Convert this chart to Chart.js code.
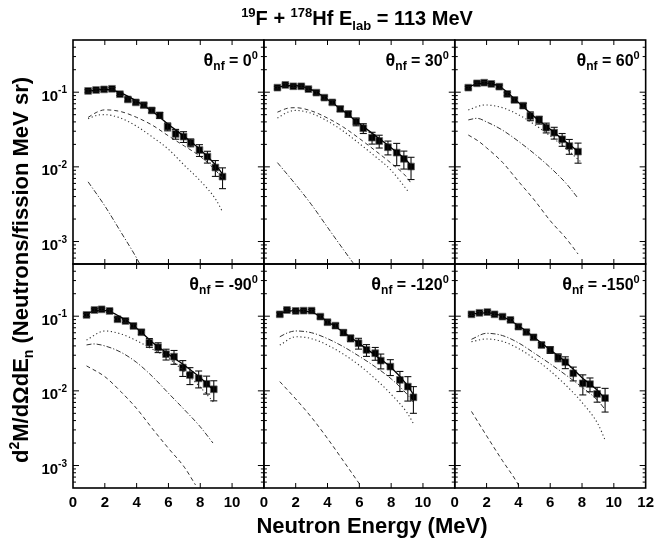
<!DOCTYPE html>
<html>
<head>
<meta charset="utf-8">
<script src="https://cdn.jsdelivr.net/npm/chart.js@4"></script>
<style>
  html, body { margin: 0; padding: 0; background: #fff; }
  #wrap { position: relative; width: 660px; height: 547px; overflow: hidden;
          font-family: "Liberation Sans", Arial, sans-serif; font-weight: bold; color: #000; }
  #chart { position: absolute; left: 0; top: 0; }
  .lbl { position: absolute; white-space: nowrap; }
  .lbl sup, .lbl sub { position: relative; vertical-align: baseline; }
  #title { left: 357px; top: 6px; font-size: 20px; line-height: 24px; transform: translateX(-50%); }
  #title sup { font-size: 13px; top: -8px; }
  #title sub { font-size: 13px; top: 5px; }
  #xtitle { left: 372px; top: 513px; font-size: 22px; line-height: 26px; transform: translateX(-50%); }
  #ytitle { left: -203px; top: 256px; width: 450px; text-align: center; font-size: 22px; line-height: 26px;
            transform: rotate(-90deg); }
  #ytitle sup { font-size: 14px; top: -9px; }
  #ytitle sub { font-size: 14px; top: 5px; }
</style>
</head>
<body>
<div id="wrap">
  <canvas id="chart" width="660" height="547"></canvas>
  <div class="lbl" id="title"><sup>19</sup>F + <sup>178</sup>Hf E<sub>lab</sub> = 113 MeV</div>
  <div class="lbl" id="ytitle">d<sup>2</sup>M/dΩdE<sub>n</sub> (Neutrons/fission MeV sr)</div>
  <div class="lbl" id="xtitle">Neutron Energy (MeV)</div>
</div>
<script>
// ---- axes
const X_MIN = 0, X_MAX = 12;
const Y_MIN = 5e-4, Y_MAX = 0.5;
const xTicks = [0, 2, 4, 6, 8, 10, 12];
const yDecades = [1e-3, 1e-2, 1e-1];
const yExponents = ['-3', '-2', '-1'];
const yMinorBase = [1e-4, 1e-3, 1e-2, 1e-1];
const yMinorMult = [2, 3, 4, 5, 6, 7, 8, 9];

const angles = ['0', '30', '60', '-90', '-120', '-150'];

// ---- theta = 0
const e0 = [0.95, 1.45, 1.95, 2.45, 2.95, 3.45, 3.95, 4.45, 4.95, 5.45, 5.95, 6.45, 6.95, 7.4, 7.95, 8.45, 8.95, 9.4];
const y0 = [0.104, 0.107, 0.109, 0.111, 0.094, 0.080, 0.073, 0.067, 0.057, 0.049, 0.0345, 0.0276, 0.0254, 0.0211, 0.0168, 0.0137, 0.0098, 0.0074];
const err0 = [0.04, 0.04, 0.04, 0.04, 0.04, 0.05, 0.05, 0.06, 0.07, 0.09, 0.12, 0.15, 0.165, 0.12, 0.18, 0.18, 0.24, 0.31];
const tot0 = [[0.95, 0.103], [1.5, 0.107], [2, 0.109], [2.5, 0.106], [3, 0.098], [4, 0.076], [5, 0.055], [6, 0.037], [7, 0.0255], [8, 0.017], [9, 0.0104], [9.4, 0.0080]];
const dsh0 = [[0.95, 0.046], [1.5, 0.054], [2, 0.058], [3, 0.055], [4, 0.046], [5, 0.036], [6, 0.026], [7, 0.019], [8, 0.0138], [9, 0.0088], [9.4, 0.0070]];
const dot0 = [[0.95, 0.044], [1.5, 0.049], [2, 0.050], [3, 0.045], [4, 0.035], [5, 0.025], [6, 0.0172], [7, 0.0105], [8, 0.0065], [9, 0.0036], [9.4, 0.0025]];
const dd0 = [[0.95, 0.0063], [2, 0.0030], [3, 0.00135], [4, 0.00060], [4.2, 0.0005]];

// ---- theta = 30
const e1 = [0.85, 1.35, 1.85, 2.35, 2.8, 3.3, 3.8, 4.3, 4.8, 5.3, 5.8, 6.25, 6.8, 7.25, 7.8, 8.35, 8.8, 9.25];
const y1 = [0.115, 0.125, 0.120, 0.120, 0.110, 0.0986, 0.0845, 0.073, 0.0596, 0.051, 0.0403, 0.0329, 0.0246, 0.0222, 0.0183, 0.0155, 0.0128, 0.0101];
const err1 = [0.04, 0.04, 0.04, 0.04, 0.04, 0.05, 0.05, 0.06, 0.07, 0.09, 0.12, 0.15, 0.18, 0.195, 0.21, 0.33, 0.27, 0.33];
const tot1 = [[0.85, 0.116], [1.5, 0.122], [2, 0.122], [2.5, 0.118], [3, 0.108], [4, 0.080], [5, 0.056], [6, 0.038], [7, 0.0262], [8, 0.0180], [9, 0.0120], [9.3, 0.0100]];
const dsh1 = [[0.85, 0.054], [1.5, 0.061], [2, 0.062], [3, 0.056], [4, 0.045], [5, 0.034], [6, 0.024], [7, 0.0165], [8, 0.0112], [9, 0.0072], [9.3, 0.0058]];
const dot1 = [[0.85, 0.045], [1.5, 0.054], [2, 0.057], [3, 0.052], [4, 0.041], [5, 0.030], [6, 0.0205], [7, 0.0138], [8, 0.0090], [9.1, 0.0046]];
const dd1 = [[0.85, 0.0114], [2, 0.0058], [3, 0.0031], [4, 0.00155], [5, 0.00078], [5.6, 0.00052]];

// ---- theta = 60
const e2 = [0.85, 1.4, 1.85, 2.3, 2.8, 3.3, 3.75, 4.3, 4.75, 5.3, 5.75, 6.25, 6.75, 7.2, 7.75];
const y2 = [0.115, 0.1315, 0.134, 0.129, 0.1186, 0.0947, 0.0787, 0.066, 0.048, 0.0425, 0.0335, 0.0287, 0.0234, 0.019, 0.016];
const err2 = [0.04, 0.04, 0.04, 0.04, 0.05, 0.05, 0.06, 0.07, 0.135, 0.12, 0.15, 0.18, 0.195, 0.225, 0.30];
const tot2 = [[0.85, 0.118], [1.5, 0.130], [2, 0.132], [2.5, 0.127], [3, 0.112], [4, 0.073], [5, 0.047], [6, 0.032], [7, 0.0215], [7.8, 0.0158]];
const dsh2 = [[0.85, 0.0267], [1.5, 0.022], [2, 0.018], [3, 0.0115], [4, 0.0064], [5, 0.0036], [6, 0.0019], [7, 0.0011], [7.75, 0.00068]];
const dot2 = [[0.85, 0.058], [1.9, 0.0675], [3, 0.062], [4, 0.050], [5, 0.037], [6, 0.026], [7, 0.0175], [7.9, 0.0118]];
const dd2 = [[0.85, 0.0425], [1.4, 0.0447], [2, 0.040], [3, 0.031], [4, 0.022], [5, 0.015], [6, 0.0098], [7, 0.0060], [7.75, 0.0038]];

// ---- theta = -90
const e3 = [0.85, 1.35, 1.8, 2.3, 2.8, 3.3, 3.8, 4.3, 4.8, 5.35, 5.85, 6.35, 6.9, 7.35, 7.9, 8.4, 8.85];
const y3 = [0.104, 0.121, 0.1235, 0.1175, 0.091, 0.0863, 0.074, 0.061, 0.0442, 0.0383, 0.031, 0.0287, 0.0205, 0.0163, 0.0147, 0.0124, 0.0105];
const err3 = [0.05, 0.04, 0.04, 0.04, 0.05, 0.05, 0.06, 0.07, 0.135, 0.15, 0.165, 0.21, 0.24, 0.255, 0.255, 0.27, 0.30];
const tot3 = [[0.85, 0.106], [1.3, 0.118], [1.8, 0.120], [2.3, 0.115], [3, 0.097], [4, 0.069], [5, 0.0445], [6, 0.031], [7, 0.022], [8, 0.0150], [8.85, 0.0102]];
const dsh3 = [[0.85, 0.0216], [2, 0.0155], [3, 0.0098], [4, 0.0058], [5, 0.0031], [6, 0.0017], [7, 0.00095], [7.7, 0.00055]];
const dot3 = [[0.85, 0.048], [2, 0.0634], [3, 0.058], [4, 0.047], [5, 0.036], [6, 0.0275], [7, 0.0180], [8, 0.0112], [8.85, 0.0070]];
const dd3 = [[0.85, 0.0412], [1.3, 0.0425], [2, 0.040], [3, 0.033], [4, 0.024], [5, 0.0155], [6, 0.0093], [7, 0.0056], [8, 0.0033], [8.8, 0.0020]];

// ---- theta = -120
const e4 = [1.0, 1.45, 2.0, 2.5, 3.0, 3.55, 4.0, 4.5, 5.0, 5.45, 5.95, 6.45, 7.0, 7.35, 7.95, 8.55, 9.05, 9.4];
const y4 = [0.106, 0.121, 0.1175, 0.1186, 0.1186, 0.0987, 0.083, 0.0747, 0.0602, 0.0506, 0.0434, 0.0353, 0.0319, 0.0254, 0.0211, 0.014, 0.0114, 0.0082];
const err4 = [0.05, 0.04, 0.04, 0.04, 0.04, 0.05, 0.06, 0.07, 0.08, 0.10, 0.165, 0.18, 0.195, 0.225, 0.24, 0.30, 0.36, 0.39];
const tot4 = [[1.0, 0.108], [1.5, 0.117], [2, 0.119], [3, 0.113], [4, 0.085], [5, 0.061], [6, 0.043], [7, 0.030], [8, 0.0205], [9, 0.0120], [9.4, 0.0090]];
const dsh4 = [[1.0, 0.0133], [2, 0.0078], [3, 0.0044], [4, 0.0023], [5, 0.00115], [6, 0.00057]];
const dot4 = [[1.0, 0.041], [2, 0.053], [3, 0.050], [4, 0.041], [5, 0.031], [6, 0.022], [7, 0.0145], [8, 0.0090], [9, 0.0051], [9.45, 0.0035]];
const dd4 = [[1.0, 0.053], [1.5, 0.060], [2, 0.0634], [3, 0.060], [4, 0.050], [5, 0.039], [6, 0.029], [7, 0.021], [8, 0.0145], [9, 0.0090], [9.45, 0.0068]];

// ---- theta = -150
const e5 = [1.05, 1.55, 2.05, 2.5, 3.0, 3.5, 4.0, 4.5, 4.95, 5.45, 6.0, 6.5, 6.95, 7.45, 8.05, 8.5, 8.95, 9.45];
const y5 = [0.106, 0.111, 0.1137, 0.106, 0.0987, 0.089, 0.0724, 0.061, 0.0522, 0.0412, 0.0353, 0.0279, 0.0242, 0.0172, 0.0126, 0.0123, 0.0091, 0.0080];
const err5 = [0.04, 0.04, 0.04, 0.04, 0.05, 0.05, 0.06, 0.06, 0.07, 0.08, 0.10, 0.12, 0.18, 0.21, 0.30, 0.21, 0.225, 0.35];
const tot5 = [[1.05, 0.106], [1.5, 0.110], [2, 0.111], [2.5, 0.108], [3, 0.099], [4, 0.075], [5, 0.052], [6, 0.0355], [7, 0.024], [8, 0.0150], [9, 0.0100], [9.45, 0.0078]];
const dsh5 = [[1.05, 0.0053], [2, 0.0025], [3, 0.00116], [3.9, 0.0006], [4.1, 0.0005]];
const dot5 = [[1.05, 0.0456], [2, 0.0495], [3, 0.046], [4, 0.037], [5, 0.027], [6, 0.0185], [7, 0.0118], [8, 0.0070], [9, 0.0036], [9.45, 0.0022]];
const dd5 = [[1.05, 0.049], [2, 0.059], [3, 0.055], [4, 0.044], [5, 0.032], [6, 0.023], [7, 0.0162], [8, 0.0112], [9, 0.0074], [9.4, 0.0058]];

const panels = [
  { x: 'x0', y: 'yTop', angle: angles[0], E: e0, v: y0, err: err0, total: tot0, dash: dsh0, dot: dot0, dashdot: dd0 },
  { x: 'x1', y: 'yTop', angle: angles[1], E: e1, v: y1, err: err1, total: tot1, dash: dsh1, dot: dot1, dashdot: dd1 },
  { x: 'x2', y: 'yTop', angle: angles[2], E: e2, v: y2, err: err2, total: tot2, dash: dsh2, dot: dot2, dashdot: dd2 },
  { x: 'x0', y: 'yBot', angle: angles[3], E: e3, v: y3, err: err3, total: tot3, dash: dsh3, dot: dot3, dashdot: dd3 },
  { x: 'x1', y: 'yBot', angle: angles[4], E: e4, v: y4, err: err4, total: tot4, dash: dsh4, dot: dot4, dashdot: dd4 },
  { x: 'x2', y: 'yBot', angle: angles[5], E: e5, v: y5, err: err5, total: tot5, dash: dsh5, dot: dot5, dashdot: dd5 }
];

const FONT = "'Liberation Sans', Arial, sans-serif";

function curve(pts, p, dash, width, color) {
  return {
    type: 'line',
    data: pts.map(q => ({ x: q[0], y: q[1] })),
    xAxisID: p.x, yAxisID: p.y,
    borderColor: color, borderWidth: width, borderDash: dash,
    pointRadius: 0, fill: false, cubicInterpolationMode: 'monotone'
  };
}

const datasets = [];
panels.forEach(p => {
  datasets.push(curve(p.dash, p, [4, 3], 1, '#333'));
  datasets.push(curve(p.dot, p, [1.2, 2.6], 1.1, '#333'));
  datasets.push(curve(p.dashdot, p, [5, 2, 1.2, 2], 1, '#333'));
  datasets.push(curve(p.total, p, [], 1.3, '#000'));
  datasets.push({
    type: 'line', showLine: false,
    data: p.E.map((e, i) => ({ x: e, y: p.v[i] })),
    xAxisID: p.x, yAxisID: p.y,
    pointStyle: 'rect', pointRadius: 4.8, pointBorderWidth: 0.7,
    pointBackgroundColor: '#000', pointBorderColor: '#666'
  });
});

function xAxis(showLast) {
  return {
    type: 'linear', position: 'bottom', stack: 'xs', stackWeight: 1,
    min: X_MIN, max: X_MAX,
    grid: { display: false, drawTicks: false },
    border: { display: false },
    afterBuildTicks: s => { s.ticks = xTicks.map(v => ({ value: v })); },
    afterFit: s => { s.height = 24; },
    ticks: {
      padding: 6, color: '#000', maxRotation: 0, autoSkip: false,
      font: { family: FONT, size: 15, weight: 'bold' },
      callback: v => (!showLast && v === X_MAX) ? '' : String(v)
    }
  };
}
function yAxis() {
  return {
    type: 'logarithmic', position: 'left', stack: 'ys', stackWeight: 1,
    min: Y_MIN, max: Y_MAX,
    grid: { display: false, drawTicks: false },
    border: { display: false },
    ticks: { display: false },
    afterFit: s => { s.width = 40; }
  };
}

function line(ctx, x1, y1, x2, y2) {
  ctx.beginPath(); ctx.moveTo(x1, y1); ctx.lineTo(x2, y2); ctx.stroke();
}

const panelPlugin = {
  id: 'panelFrames',
  afterDatasetsDraw(chart) {
    const ctx = chart.ctx;
    ctx.save();
    ctx.strokeStyle = '#111';
    ctx.lineWidth = 1.1;
    panels.forEach(p => {
      const xs = chart.scales[p.x], ys = chart.scales[p.y];
      p.E.forEach((e, i) => {
        const v = p.v[i], d = v * p.err[i];
        const px = xs.getPixelForValue(e);
        const a = ys.getPixelForValue(v + d), b = ys.getPixelForValue(v - d);
        line(ctx, px, a, px, b);
        line(ctx, px - 3.5, a, px + 3.5, a);
        line(ctx, px - 3.5, b, px + 3.5, b);
      });
    });
    ctx.restore();
  },
  afterDraw(chart) {
    const ctx = chart.ctx;
    ctx.save();
    ctx.strokeStyle = '#000';
    panels.forEach(p => {
      const xs = chart.scales[p.x], ys = chart.scales[p.y];
      const L = xs.left, R = xs.right, T = ys.top, B = ys.bottom;
      ctx.lineWidth = 1;
      xTicks.forEach(v => {
        if (v <= X_MIN || v >= X_MAX) return;
        const x = xs.getPixelForValue(v);
        line(ctx, x, B, x, B - 5);
        line(ctx, x, T, x, T + 5);
      });
      yDecades.forEach(v => {
        const y = ys.getPixelForValue(v);
        line(ctx, L, y, L + 6, y);
        line(ctx, R, y, R - 6, y);
      });
      yMinorBase.forEach(base => yMinorMult.forEach(m => {
        const v = base * m;
        if (v <= Y_MIN || v >= Y_MAX) return;
        const y = ys.getPixelForValue(v);
        line(ctx, L, y, L + 3, y);
        line(ctx, R, y, R - 3, y);
      }));
      ctx.lineWidth = 1.6;
      ctx.strokeRect(L, T, R - L, B - T);

      // panel label: theta_nf = angle^0
      ctx.fillStyle = '#000';
      ctx.textBaseline = 'alphabetic';
      const base = T + 26;
      let x = R - 6;
      const parts = [
        { t: '0', f: 11, dy: -7 },
        { t: ' = ' + p.angle, f: 16, dy: 0 },
        { t: 'nf', f: 12, dy: 4 },
        { t: 'θ', f: 18, dy: 0 }
      ];
      parts.forEach(q => {
        ctx.font = 'bold ' + q.f + 'px ' + FONT;
        x -= ctx.measureText(q.t).width;
        ctx.fillText(q.t, x, base + q.dy);
      });
    });

    // y tick labels (10^n) at left of each row
    ['yTop', 'yBot'].forEach(id => {
      const ys = chart.scales[id];
      yDecades.forEach((v, i) => {
        const y = ys.getPixelForValue(v);
        let x = ys.right - 6;
        ctx.font = 'bold 10px ' + FONT;
        x -= ctx.measureText(yExponents[i]).width;
        ctx.fillText(yExponents[i], x, y + 1);
        ctx.font = 'bold 15px ' + FONT;
        x -= ctx.measureText('10').width;
        ctx.fillText('10', x, y + 8.5);
      });
    });
    ctx.restore();
  }
};

new Chart(document.getElementById('chart'), {
  type: 'line',
  data: { datasets },
  options: {
    responsive: false,
    animation: false,
    layout: { padding: { left: 33, right: 8, top: 40, bottom: 35 } },
    plugins: { legend: { display: false }, tooltip: { enabled: false } },
    scales: {
      x0: xAxis(false),
      x1: xAxis(false),
      x2: xAxis(true),
      yBot: yAxis(),
      yTop: yAxis()
    }
  },
  plugins: [panelPlugin]
});
</script>
</body>
</html>
